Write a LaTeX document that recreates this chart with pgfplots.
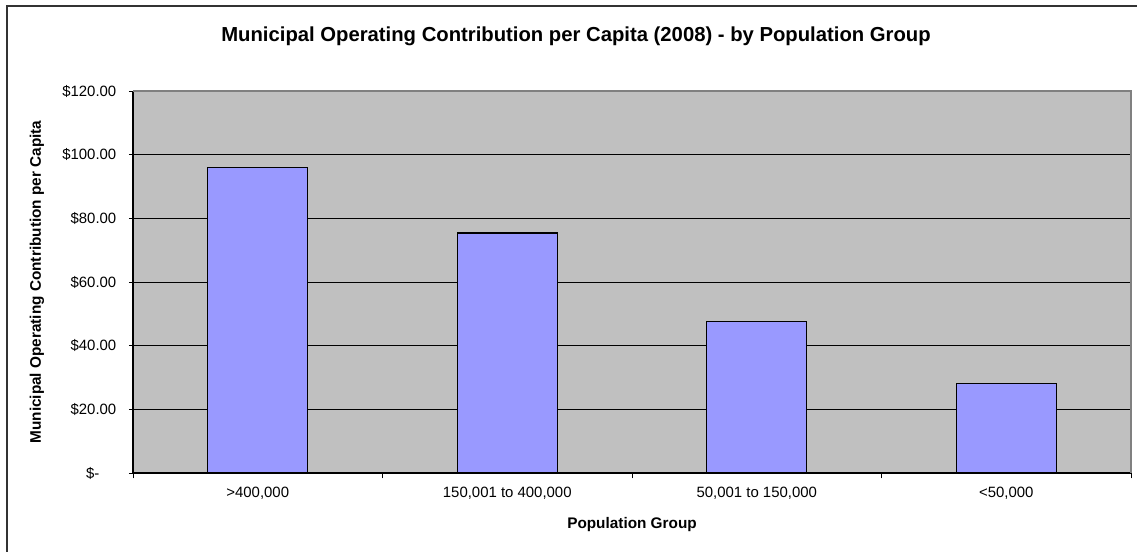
\documentclass[border=0pt]{standalone}
\usepackage{pgfplots}
\pgfplotsset{compat=1.18}
\usepackage{fontspec}
\setmainfont{Liberation Sans}

\definecolor{plotgray}{HTML}{C0C0C0}
\definecolor{barblue}{HTML}{9999FF}
\definecolor{edgegray}{HTML}{808080}

\begin{document}
\begin{tikzpicture}[x=0.75pt,y=0.75pt]
% page size: 1137 x 552 px, axis corner at (133,473) px
\path[use as bounding box] (-133,-79) rectangle (1004,473);
\draw[line width=1.5pt,black!80] (-125.5,-79) -- (-125.5,467) -- (1004,467);

\begin{axis}[
    at={(0pt,0pt)}, anchor=south west,
    scale only axis,
    width=748.5pt, height=286.5pt,
    ybar, bar width=0.4,
    xmin=-0.5, xmax=3.5,
    ymin=0, ymax=120,
    axis background/.style={fill=plotgray},
    axis x line*=bottom, axis y line*=left,
    axis line style={black, line width=0.9pt},
    xtick={0,1,2,3},
    xticklabels={{>400,000},{150,001 to 400,000},{50,001 to 150,000},{<50,000}},
    x tick style={draw=none},
    extra x ticks={-0.5,0.5,1.5,2.5,3.5},
    extra x tick labels={},
    extra x tick style={x tick style={draw=black, line width=0.6pt}, major tick length=4pt},
    ytick={0,20,40,60,80,100,120},
    yticklabels={{\$-\rule{12.75pt}{0pt}},{\$20.00},{\$40.00},{\$60.00},{\$80.00},{\$100.00},{\$120.00}},
    y tick style={black, line width=0.6pt},
    tick align=outside, major tick length=3pt,
    ymajorgrids,
    grid style={black, line width=0.7pt},
    ticklabel style={font=\fontsize{11.2}{13}\selectfont},
    yticklabel style={anchor=east, xshift=-6pt},
    xticklabel style={yshift=-4pt},
    xlabel={\textbf{Population Group}},
    ylabel={\textbf{Municipal Operating Contribution per Capita}},
    xlabel style={font=\fontsize{11.5}{13}\selectfont, at={(axis description cs:0.5,0)}, anchor=center, yshift=-39pt},
    ylabel style={font=\fontsize{11.5}{13}\selectfont, at={(axis description cs:0,0.5)}, anchor=center, yshift=72pt},
    clip=false,
]
\addplot[fill=barblue, draw=black, line width=0.8pt] coordinates {
    (0, 96.0)
    (1, 75.4)
    (2, 47.7)
    (3, 28.2)
};
\draw[edgegray, line width=0.9pt] (rel axis cs:0,1) -- (rel axis cs:1,1) -- (rel axis cs:1,0);
\end{axis}

\node[font=\fontsize{15.2}{18}\selectfont\bfseries, anchor=center] at (443,437) {Municipal Operating Contribution per Capita (2008) - by Population Group};
\end{tikzpicture}
\end{document}
